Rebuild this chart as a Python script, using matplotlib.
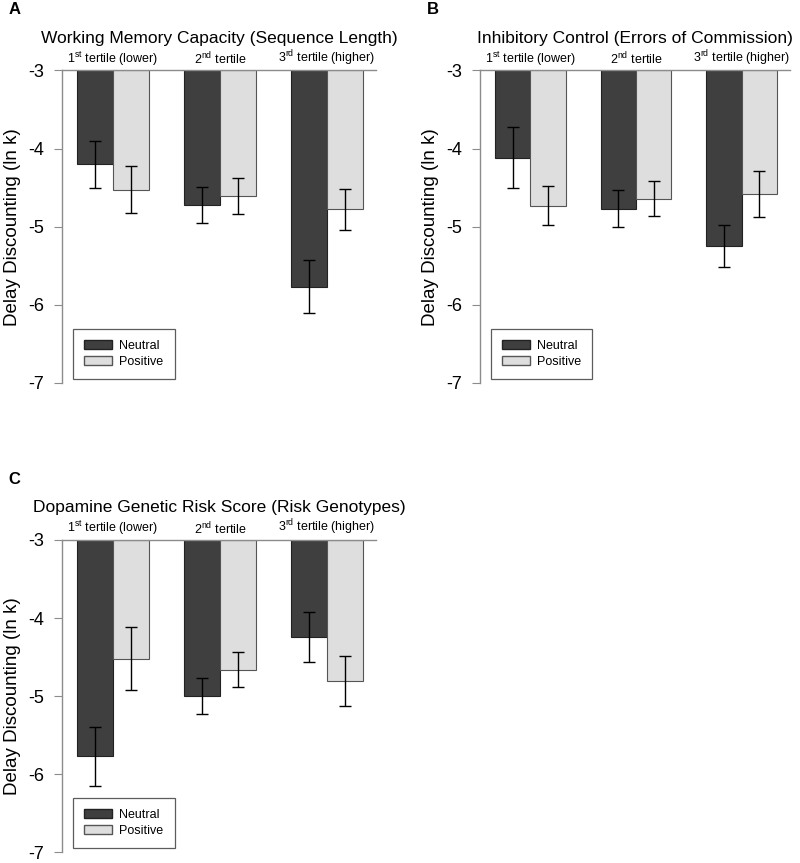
import matplotlib
matplotlib.use("Agg")
import matplotlib.pyplot as plt
import numpy as np
from matplotlib.patches import Patch

plt.rcParams['font.family'] = ['Liberation Sans', 'DejaVu Sans']
plt.rcParams['mathtext.fontset'] = 'custom'
plt.rcParams['mathtext.rm'] = 'Liberation Sans'

groups = [r"1$^{\mathrm{st}}$ tertile (lower)", r"2$^{\mathrm{nd}}$ tertile", r"3$^{\mathrm{rd}}$ tertile (higher)"]
series = ["Neutral", "Positive"]

titles = ["Working Memory Capacity (Sequence Length)",
          "Inhibitory Control (Errors of Commission)",
          "Dopamine Genetic Risk Score (Risk Genotypes)"]
panel_letters = ["A", "B", "C"]

a_neutral = [-4.20, -4.72, -5.77]
a_neutral_err = [0.30, 0.23, 0.34]
a_positive = [-4.53, -4.61, -4.78]
a_positive_err = [0.30, 0.23, 0.26]

b_neutral = [-4.12, -4.77, -5.25]
b_neutral_err = [0.39, 0.24, 0.27]
b_positive = [-4.73, -4.64, -4.58]
b_positive_err = [0.25, 0.22, 0.29]

c_neutral = [-5.77, -5.00, -4.24]
c_neutral_err = [0.38, 0.23, 0.32]
c_positive = [-4.52, -4.66, -4.80]
c_positive_err = [0.40, 0.22, 0.32]

yticks = [-3, -4, -5, -6, -7]
ylabel = "Delay Discounting (ln k)"

panels = [
    (a_neutral, a_neutral_err, a_positive, a_positive_err),
    (b_neutral, b_neutral_err, b_positive, b_positive_err),
    (c_neutral, c_neutral_err, c_positive, c_positive_err),
]

fig = plt.figure(figsize=(8.0, 8.63), dpi=100)
rects = [
    [0.0775, 0.5562, 0.3925, 0.3623],
    [0.600, 0.5562, 0.3875, 0.3623],
    [0.0775, 0.0124, 0.3925, 0.3619],
]

dark = "#3f3f3f"
light = "#dedede"
axis_gray = "#8c8c8c"
bw = 0.335

for i, (rect, data) in enumerate(zip(rects, panels)):
    ax = fig.add_axes(rect)
    n, ne, p, pe = data
    x = np.arange(len(groups))
    base = -3
    ax.bar(x - bw / 2, np.array(n) - base, bottom=base, width=bw, color=dark,
           edgecolor="#222222", linewidth=0.8, zorder=2)
    ax.bar(x + bw / 2, np.array(p) - base, bottom=base, width=bw, color=light,
           edgecolor="#555555", linewidth=0.8, zorder=2)
    ax.errorbar(x - bw / 2, n, yerr=ne, fmt="none", ecolor="black",
                elinewidth=1.0, capsize=4, capthick=1.0, zorder=3)
    ax.errorbar(x + bw / 2, p, yerr=pe, fmt="none", ecolor="black",
                elinewidth=1.0, capsize=4, capthick=1.0, zorder=3)
    ax.set_xlim(-0.477, 2.458)
    ax.set_ylim(-7, -3)
    ax.set_yticks(yticks)
    ax.set_yticklabels([str(t) for t in yticks], fontsize=13)
    ax.set_xticks([])
    for s in ["right", "bottom"]:
        ax.spines[s].set_visible(False)
    ax.spines["left"].set_color(axis_gray)
    ax.spines["top"].set_color(axis_gray)
    ax.spines["left"].set_linewidth(1.0)
    ax.spines["top"].set_linewidth(1.0)
    ax.tick_params(axis="y", direction="out", length=6, color=axis_gray, pad=7)
    ax.set_ylabel(ylabel, fontsize=13.5, labelpad=5)
    ax.patch.set_alpha(0)
    for xi, g in zip(x, groups):
        ax.annotate(g, xy=(xi, -3), xytext=(0, 2), textcoords="offset points",
                    ha="center", va="bottom", fontsize=9, annotation_clip=False)
    ax.set_title(titles[i], fontsize=12.5, pad=20)
    ax.text(-0.17, 1.17, panel_letters[i], transform=ax.transAxes,
            fontsize=12, fontweight="bold", ha="left", va="bottom")
    handles = [Patch(facecolor=dark, edgecolor="#222222", label=series[0]),
               Patch(facecolor=light, edgecolor="#555555", label=series[1])]
    leg = ax.legend(handles=handles, loc="lower left",
                    bbox_to_anchor=(0.035, 0.013), fontsize=9,
                    frameon=True, fancybox=False, edgecolor="#333333",
                    handlelength=2.2, handleheight=0.7, borderpad=0.9,
                    labelspacing=0.3, handletextpad=0.6, borderaxespad=0)
    leg.get_frame().set_linewidth(0.9)

fig.savefig("out.png", dpi=100)
